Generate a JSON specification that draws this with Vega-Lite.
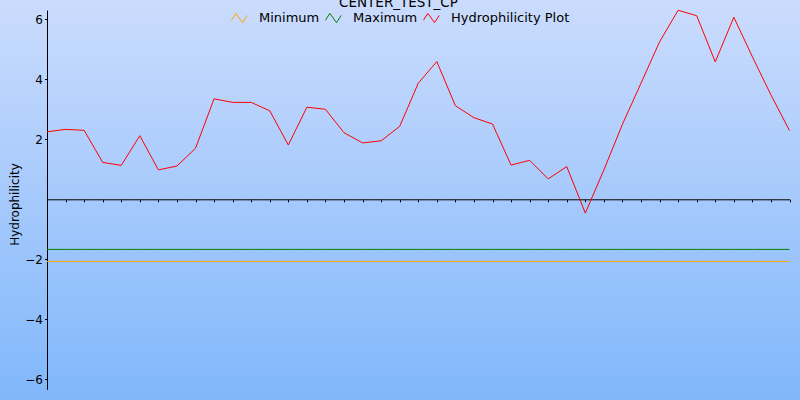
{
  "$schema": "https://vega.github.io/schema/vega-lite/v6.json",
  "width": 800,
  "height": 400,
  "autosize": {"type": "none"},
  "padding": 0,
  "background": "#a8cafc",
  "config": {
    "font": "DejaVu Sans",
    "view": {
      "stroke": null,
      "fill": {
        "gradient": "linear",
        "x1": 0, "y1": 0, "x2": 0, "y2": 1,
        "stops": [
          {"offset": 0, "color": "#cbdcfd"},
          {"offset": 1, "color": "#80b7fb"}
        ]
      }
    }
  },
  "title": {
    "text": "CENTER_TEST_CP",
    "fontSize": 13.5,
    "fontWeight": "normal",
    "color": "#000000",
    "anchor": "middle",
    "frame": "group",
    "baseline": "alphabetic",
    "offset": 0,
    "dx": -1.5,
    "dy": 20
  },
  "data": {
    "values": [
      {"pos": 0, "Minimum": -2.07, "Maximum": -1.67, "Hydrophilicity Plot": 2.25},
      {"pos": 1, "Minimum": -2.07, "Maximum": -1.67, "Hydrophilicity Plot": 2.33},
      {"pos": 2, "Minimum": -2.07, "Maximum": -1.67, "Hydrophilicity Plot": 2.3},
      {"pos": 3, "Minimum": -2.07, "Maximum": -1.67, "Hydrophilicity Plot": 1.23},
      {"pos": 4, "Minimum": -2.07, "Maximum": -1.67, "Hydrophilicity Plot": 1.13},
      {"pos": 5, "Minimum": -2.07, "Maximum": -1.67, "Hydrophilicity Plot": 2.12},
      {"pos": 6, "Minimum": -2.07, "Maximum": -1.67, "Hydrophilicity Plot": 0.98},
      {"pos": 7, "Minimum": -2.07, "Maximum": -1.67, "Hydrophilicity Plot": 1.11},
      {"pos": 8, "Minimum": -2.07, "Maximum": -1.67, "Hydrophilicity Plot": 1.7},
      {"pos": 9, "Minimum": -2.07, "Maximum": -1.67, "Hydrophilicity Plot": 3.35},
      {"pos": 10, "Minimum": -2.07, "Maximum": -1.67, "Hydrophilicity Plot": 3.23},
      {"pos": 11, "Minimum": -2.07, "Maximum": -1.67, "Hydrophilicity Plot": 3.23},
      {"pos": 12, "Minimum": -2.07, "Maximum": -1.67, "Hydrophilicity Plot": 2.95},
      {"pos": 13, "Minimum": -2.07, "Maximum": -1.67, "Hydrophilicity Plot": 1.81},
      {"pos": 14, "Minimum": -2.07, "Maximum": -1.67, "Hydrophilicity Plot": 3.07},
      {"pos": 15, "Minimum": -2.07, "Maximum": -1.67, "Hydrophilicity Plot": 3.0},
      {"pos": 16, "Minimum": -2.07, "Maximum": -1.67, "Hydrophilicity Plot": 2.22},
      {"pos": 17, "Minimum": -2.07, "Maximum": -1.67, "Hydrophilicity Plot": 1.88},
      {"pos": 18, "Minimum": -2.07, "Maximum": -1.67, "Hydrophilicity Plot": 1.95},
      {"pos": 19, "Minimum": -2.07, "Maximum": -1.67, "Hydrophilicity Plot": 2.43},
      {"pos": 20, "Minimum": -2.07, "Maximum": -1.67, "Hydrophilicity Plot": 3.87},
      {"pos": 21, "Minimum": -2.07, "Maximum": -1.67, "Hydrophilicity Plot": 4.59},
      {"pos": 22, "Minimum": -2.07, "Maximum": -1.67, "Hydrophilicity Plot": 3.12},
      {"pos": 23, "Minimum": -2.07, "Maximum": -1.67, "Hydrophilicity Plot": 2.72},
      {"pos": 24, "Minimum": -2.07, "Maximum": -1.67, "Hydrophilicity Plot": 2.51},
      {"pos": 25, "Minimum": -2.07, "Maximum": -1.67, "Hydrophilicity Plot": 1.14},
      {"pos": 26, "Minimum": -2.07, "Maximum": -1.67, "Hydrophilicity Plot": 1.3},
      {"pos": 27, "Minimum": -2.07, "Maximum": -1.67, "Hydrophilicity Plot": 0.68},
      {"pos": 28, "Minimum": -2.07, "Maximum": -1.67, "Hydrophilicity Plot": 1.09},
      {"pos": 29, "Minimum": -2.07, "Maximum": -1.67, "Hydrophilicity Plot": -0.46},
      {"pos": 30, "Minimum": -2.07, "Maximum": -1.67, "Hydrophilicity Plot": 0.98},
      {"pos": 31, "Minimum": -2.07, "Maximum": -1.67, "Hydrophilicity Plot": 2.5},
      {"pos": 32, "Minimum": -2.07, "Maximum": -1.67, "Hydrophilicity Plot": 3.87},
      {"pos": 33, "Minimum": -2.07, "Maximum": -1.67, "Hydrophilicity Plot": 5.25},
      {"pos": 34, "Minimum": -2.07, "Maximum": -1.67, "Hydrophilicity Plot": 6.3},
      {"pos": 35, "Minimum": -2.07, "Maximum": -1.67, "Hydrophilicity Plot": 6.12},
      {"pos": 36, "Minimum": -2.07, "Maximum": -1.67, "Hydrophilicity Plot": 4.58},
      {"pos": 37, "Minimum": -2.07, "Maximum": -1.67, "Hydrophilicity Plot": 6.07},
      {"pos": 38, "Minimum": -2.07, "Maximum": -1.67, "Hydrophilicity Plot": 4.75},
      {"pos": 39, "Minimum": -2.07, "Maximum": -1.67, "Hydrophilicity Plot": 3.48},
      {"pos": 40, "Minimum": -2.07, "Maximum": -1.67, "Hydrophilicity Plot": 2.29}
    ]
  },
  "transform": [
    {"fold": ["Minimum", "Maximum", "Hydrophilicity Plot"], "as": ["series", "value"]}
  ],
  "mark": {"type": "line", "strokeWidth": 1, "clip": false},
  "encoding": {
    "x": {
      "field": "pos",
      "type": "quantitative",
      "scale": {"domain": [0, 40], "range": [47, 789.5], "nice": false, "zero": false},
      "axis": {
        "title": null,
        "labels": false,
        "grid": false,
        "values": [1,2,3,4,5,6,7,8,9,10,11,12,13,14,15,16,17,18,19,20,21,22,23,24,25,26,27,28,29,30,31,32,33,34,35,36,37,38,39,40],
        "offset": -200.7,
        "domainColor": "#000000",
        "domainWidth": 1,
        "tickColor": "#000000",
        "tickWidth": 1,
        "tickSize": 2.5,
        "encode": {"ticks": {"update": {"y": {"value": -2.5}}}}
      }
    },
    "y": {
      "field": "value",
      "type": "quantitative",
      "scale": {"domain": [-6.333, 6.31], "range": [389.3, 10], "nice": false, "zero": false},
      "axis": {
        "title": "Hydrophilicity",
        "titleFontSize": 12,
        "titleFontWeight": "normal",
        "titleColor": "#000000",
        "titlePadding": 3,
        "titleY": 204,
        "grid": false,
        "values": [-6, -4, -2, 2, 4, 6],
        "offset": -47,
        "labelFontSize": 12,
        "labelColor": "#000000",
        "labelPadding": 2,
        "domainColor": "#000000",
        "domainWidth": 1,
        "tickColor": "#000000",
        "tickWidth": 1,
        "tickSize": 2.5,
        "encode": {"ticks": {"update": {"x": {"value": 2.5}}}}
      }
    },
    "color": {
      "field": "series",
      "type": "nominal",
      "scale": {
        "domain": ["Minimum", "Maximum", "Hydrophilicity Plot"],
        "range": ["#ffa500", "#008000", "#ff0000"]
      },
      "legend": {
        "orient": "none",
        "legendX": 231,
        "legendY": 9,
        "direction": "horizontal",
        "title": null,
        "padding": 0,
        "symbolType": "M-1,0.25L-0.5,-0.55L0.3,0.55L0.85,-0.3",
        "symbolSize": 289,
        "symbolStrokeWidth": 1,
        "symbolFillColor": "transparent",
        "labelFontSize": 13,
        "labelColor": "#000000",
        "labelOffset": 10,
        "columnPadding": 3
      }
    }
  }
}
